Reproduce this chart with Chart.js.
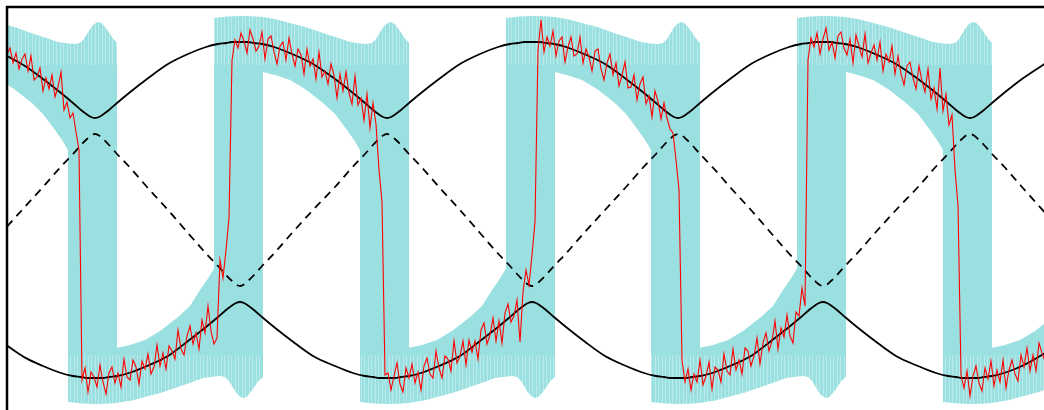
<!DOCTYPE html>
<html>
<head>
<meta charset="utf-8">
<script src="https://cdn.jsdelivr.net/npm/chart.js@4.4.0/dist/chart.umd.min.js"></script>
<style>
  html, body { margin: 0; padding: 0; background: #fff; overflow: hidden; }
  #wrap { position: absolute; left: 0; top: 0; width: 1060px; height: 425px; }
</style>
</head>
<body>
<div id="wrap"><canvas id="chart" width="1060" height="425"></canvas></div>
<script>
// smooth curves, all sampled at the same times
const curveT = [0, 18,
  36, 54, 66, 74, 80, 84, 88, 92, 96, 102, 110, 122, 140, 161,
  181, 199, 211, 219, 225, 229, 233, 237, 241, 247, 255, 267, 285, 306,
  328, 346, 358, 366, 372, 376, 380, 384, 388, 394, 402, 414, 432, 453,
  473, 491, 503, 511, 517, 521, 525, 529, 533, 539, 547, 559, 577, 598,
  619, 637, 649, 657, 663, 667, 671, 675, 679, 685, 693, 705, 723, 744,
  764, 782, 794, 802, 808, 812, 816, 820, 824, 830, 838, 850, 868, 889,
  911, 929, 941, 949, 955, 959, 963, 967, 971, 977, 985, 997, 1015, 1046];

const upperLevel = [154, 144,
  131, 117, 107, 100, 95.5, 93, 92, 93, 95.5, 100, 107, 117, 131, 146,
  156, 163, 166, 167, 168, 168, 168, 168, 168, 167, 166, 163, 156, 146,
  131, 117, 107, 100, 95.5, 93, 92, 93, 95.5, 100, 107, 117, 131, 146,
  156, 163, 166, 167, 168, 168, 168, 168, 168, 167, 166, 163, 156, 146,
  131, 117, 107, 100, 95.5, 93, 92, 93, 95.5, 100, 107, 117, 131, 146,
  156, 163, 166, 167, 168, 168, 168, 168, 168, 167, 166, 163, 156, 146,
  131, 117, 107, 100, 95.5, 93, 92, 93, 95.5, 100, 107, 117, 131, 151.5];

const lowerLevel = [-135.6, -147.6,
  -156, -163, -166, -167, -168, -168, -168, -168, -168, -167, -166, -163, -156, -146,
  -131, -117, -107, -100, -95.5, -93, -92, -93, -95.5, -100, -107, -117, -131, -146,
  -156, -163, -166, -167, -168, -168, -168, -168, -168, -167, -166, -163, -156, -146,
  -131, -117, -107, -100, -95.5, -93, -92, -93, -95.5, -100, -107, -117, -131, -146,
  -156, -163, -166, -167, -168, -168, -168, -168, -168, -167, -166, -163, -156, -146,
  -131, -117, -107, -100, -95.5, -93, -92, -93, -95.5, -100, -107, -117, -131, -146,
  -156, -163, -166, -167, -168, -168, -168, -168, -168, -167, -166, -163, -156, -138.4];

const crossLevel = [-16.6, 3.3,
  23, 43.5, 56, 65, 71, 74.5, 76, 74.5, 71, 65, 56, 43.5, 23, 0,
  -23, -43.5, -56, -65, -71, -74.5, -76, -74.5, -71, -65, -56, -43.5, -23, 0,
  23, 43.5, 56, 65, 71, 74.5, 76, 74.5, 71, 65, 56, 43.5, 23, 0,
  -23, -43.5, -56, -65, -71, -74.5, -76, -74.5, -71, -65, -56, -43.5, -23, 0,
  23, 43.5, 56, 65, 71, 74.5, 76, 74.5, 71, 65, 56, 43.5, 23, 0,
  -23, -43.5, -56, -65, -71, -74.5, -76, -74.5, -71, -65, -56, -43.5, -23, 0,
  23, 43.5, 56, 65, 71, 74.5, 76, 74.5, 71, 65, 56, 43.5, 23, -11.6];

// measured trace, one sample every 3 time units from t = 0
const traceStep = 3;
const traceV = [
  156, 162, 147, 157, 141, 151, 156, 139, 154, 130, 133, 142, 119, 132, 121, 135,
  113, 123, 138, 100, 108, 92, 97, 78, 60,
  -170, -158, -182, -162, -167, -177, -155, -172, -184, -163, -157, -173, -163, -177,
  -149, -167, -170, -150, -157, -174, -151, -159, -144, -164, -157, -135, -156, -143,
  -159, -136, -141, -149, -120, -139, -145, -126, -116, -134, -123, -139, -110, -123,
  -96, -121, -134, -128, -50, -68, -40, -8,
  150, 170, 162, 177, 169, 157, 180, 171, 159, 164, 178, 151, 171, 174, 158, 146,
  164, 168, 150, 172, 156, 144, 161, 155, 136, 161, 144, 151, 131, 158, 133, 139,
  126, 146, 135, 112, 136, 119, 138, 117, 106, 134, 105, 112, 90, 116, 82, 107,
  86, 40, 8,
  -165, -163, -180, -166, -153, -174, -182, -158, -168, -154, -173, -162, -180, -156,
  -148, -164, -168, -141, -158, -168, -146, -149, -161, -131, -153, -146, -131, -155,
  -130, -142, -131, -149, -120, -113, -134, -125, -108, -131, -111, -133, -103, -94,
  -112, -106, -90, -132, -82, -60, -75, -45, -12,
  160, 190, 158, 173, 164, 179, 154, 169, 173, 148, 163, 173, 154, 156, 173, 147,
  161, 153, 139, 159, 161, 141, 130, 147, 156, 135, 147, 124, 135, 148, 122, 123,
  135, 110, 126, 133, 106, 114, 93, 119, 109, 91, 107, 92, 81, 77, 50, 20,
  -150, -172, -159, -180, -164, -172, -150, -175, -166, -152, -179, -157, -160, -172,
  -144, -161, -165, -139, -160, -150, -164, -138, -141, -156, -146, -128, -154, -133,
  -123, -141, -131, -111, -139, -118, -127, -105, -126, -133, -102, -106, -78, -96,
  150, 172, 163, 177, 156, 171, 182, 160, 168, 152, 174, 178, 162, 155, 171, 147,
  175, 164, 153, 176, 147, 157, 165, 150, 168, 139, 156, 148, 164, 136, 154, 136,
  125, 144, 148, 132, 121, 144, 129, 118, 141, 111, 122, 101, 142, 99, 116, 85,
  95, 40, 5,
  -165, -178, -161, -186, -166, -156, -173, -181, -158, -169, -151, -176, -160, -172,
  -150, -178, -160, -150, -164, -171, -145, -157, -138, -161, -145, -161, -133, -143,
  -151];

// outlines of the shaded band, [t, v] around each piece
const bandUpperA = [[0, 185], [9, 182.5], [24, 177], [38, 172.5], [51, 168], [61, 166.5],
  [68, 166], [73, 167], [77, 171], [80, 176], [83, 181], [86, 185], [89, 187.2], [92, 188],
  [95, 186.5], [98, 183], [102, 177.5], [106, 171.5], [110, 167],
  [110, -193], [100, -193.7], [88, -194], [75, -193.5], [61, -192],
  [61, 60], [55, 70], [48, 80], [36, 96], [25, 107], [7, 121], [0, 125.5]];

const bandUpperB = [[207, 192], [220, 193.5], [233, 194], [245, 193.7], [256, 193], [270, 190.5],
  [283, 187], [300, 182.5], [316, 177], [330, 172.5], [343, 168], [353, 166.5], [360, 166],
  [365, 167], [369, 171], [372, 176], [375, 181], [378, 185], [381, 187.2], [384, 188],
  [387, 186.5], [390, 183], [394, 177.5], [398, 171.5], [402, 167],
  [402, -193], [392, -193.7], [380, -194], [367, -193.5], [353, -192],
  [353, 60], [347, 70], [340, 80], [328, 96], [316, 107], [298, 121], [283, 130], [268, 135], [256, 138],
  [256, -167], [251, -171.5], [247, -177.5], [243, -183], [240, -186.5], [237, -188], [234, -187.2],
  [231, -185], [228, -181], [225, -176], [222, -171], [218, -167], [213, -166], [207, -166.5]];

const bandUpperC = [[499, 192], [512, 193.5], [525, 194], [537, 193.7], [548, 193], [562, 190.5],
  [575, 187], [592, 182.5], [607, 177], [621, 172.5], [634, 168], [644, 166.5], [651, 166],
  [656, 167], [660, 171], [663, 176], [666, 181], [669, 185], [672, 187.2], [675, 188],
  [678, 186.5], [681, 183], [685, 177.5], [689, 171.5], [693, 167],
  [693, -193], [683, -193.7], [671, -194], [658, -193.5], [644, -192],
  [644, 60], [638, 70], [631, 80], [619, 96], [608, 107], [590, 121], [575, 130], [560, 135], [548, 138],
  [548, -167], [543, -171.5], [539, -177.5], [535, -183], [532, -186.5], [529, -188], [526, -187.2],
  [523, -185], [520, -181], [517, -176], [514, -171], [510, -167], [505, -166], [499, -166.5]];

const bandUpperD = [[790, 192], [803, 193.5], [816, 194], [828, 193.7], [839, 193], [853, 190.5],
  [866, 187], [883, 182.5], [899, 177], [913, 172.5], [926, 168], [936, 166.5], [943, 166],
  [948, 167], [952, 171], [955, 176], [958, 181], [961, 185], [964, 187.2], [967, 188],
  [970, 186.5], [973, 183], [977, 177.5], [981, 171.5], [985, 167],
  [985, -193], [975, -193.7], [963, -194], [950, -193.5], [936, -192],
  [936, 60], [930, 70], [923, 80], [911, 96], [899, 107], [881, 121], [866, 130], [851, 135], [839, 138],
  [839, -167], [834, -171.5], [830, -177.5], [826, -183], [823, -186.5], [820, -188], [817, -187.2],
  [814, -185], [811, -181], [808, -176], [805, -171], [801, -167], [796, -166], [790, -166.5]];

const bandLowerA = [[109, -138], [123, -135], [138, -130], [153, -121], [171, -107], [183, -96],
  [193, -80], [200, -70], [208, -57],
  [208, -166.5], [196, -168], [184, -172.5], [171, -177], [155, -182.5], [138, -187], [125, -190.5], [109, -193]];

const bandLowerB = [[401, -138], [415, -135], [430, -130], [445, -121], [463, -107], [475, -96],
  [485, -80], [492, -70], [500, -57],
  [500, -166.5], [488, -168], [476, -172.5], [463, -177], [447, -182.5], [430, -187], [417, -190.5], [401, -193]];

const bandLowerC = [[692, -138], [706, -135], [721, -130], [736, -121], [754, -107], [766, -96],
  [776, -80], [783, -70], [791, -57],
  [791, -166.5], [779, -168], [767, -172.5], [754, -177], [738, -182.5], [721, -187], [708, -190.5], [692, -193]];

const bandLowerD = [[984, -138], [998, -135], [1013, -130], [1028, -121], [1046, -107], [1060, -93],
  [1060, -172], [1046, -177], [1030, -182.5], [1013, -187], [1000, -190.5], [984, -193]];

const bandColor = '#9be0e0';

// the band is hatched with faint vertical seams in its outer parts
function bandFill() {
  const c = document.createElement('canvas');
  c.width = 7;
  c.height = 425;
  const g = c.getContext('2d');
  g.fillStyle = bandColor;
  g.fillRect(0, 0, 7, 425);
  g.fillStyle = 'rgba(255,255,255,0.32)';
  [0, 4].forEach(x => {
    g.fillRect(x, 0, 1, 65);
    g.fillRect(x, 355, 1, 70);
  });
  return g.createPattern(c, 'repeat');
}
const bandPattern = bandFill();

function pts(xs, ys) {
  return xs.map((x, i) => ({ x: x, y: ys[i] }));
}

function bandSet(outline) {
  return {
    data: outline.map(p => ({ x: p[0], y: p[1] })),
    fill: 'shape',
    backgroundColor: bandPattern,
    borderColor: 'transparent',
    borderWidth: 0,
    tension: 0,
    order: 10
  };
}

const traceT = traceV.map((v, i) => i * traceStep);

const frame = {
  id: 'frame',
  afterDraw(chart) {
    const { ctx, chartArea: a } = chart;
    ctx.save();
    ctx.strokeStyle = '#000';
    ctx.lineWidth = 2.5;
    ctx.strokeRect(a.left, a.top, a.right - a.left, a.bottom - a.top);
    ctx.restore();
  }
};

new Chart(document.getElementById('chart'), {
  type: 'line',
  data: {
    datasets: [
      {
        data: pts(traceT, traceV),
        borderColor: '#ff0000',
        borderWidth: 1.1,
        tension: 0,
        fill: false,
        order: 1
      },
      {
        data: pts(curveT, upperLevel),
        borderColor: '#000',
        borderWidth: 1.8,
        cubicInterpolationMode: 'monotone',
        fill: false,
        order: 3
      },
      {
        data: pts(curveT, lowerLevel),
        borderColor: '#000',
        borderWidth: 1.8,
        cubicInterpolationMode: 'monotone',
        fill: false,
        order: 3
      },
      {
        data: pts(curveT, crossLevel),
        borderColor: '#000',
        borderWidth: 1.8,
        borderDash: [8, 6],
        cubicInterpolationMode: 'monotone',
        fill: false,
        order: 3
      },
      bandSet(bandUpperA), bandSet(bandUpperB), bandSet(bandUpperC), bandSet(bandUpperD),
      bandSet(bandLowerA), bandSet(bandLowerB), bandSet(bandLowerC), bandSet(bandLowerD)
    ]
  },
  options: {
    responsive: false,
    animation: false,
    devicePixelRatio: 1,
    layout: { padding: { left: 7, top: 7, right: 7, bottom: 5 } },
    elements: { point: { radius: 0 } },
    plugins: { legend: { display: false }, tooltip: { enabled: false } },
    scales: {
      x: { type: 'linear', min: 0, max: 1046, display: false },
      y: { type: 'linear', min: -210, max: 203, display: false }
    }
  },
  plugins: [frame]
});
</script>
</body>
</html>
